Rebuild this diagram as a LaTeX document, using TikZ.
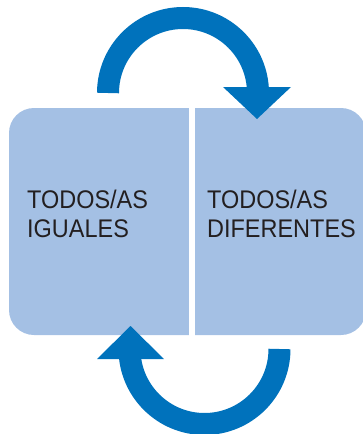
\documentclass[tikz,border=0pt]{standalone}
\usepackage{fontspec}
\setmainfont{Liberation Sans}[FakeStretch=0.92]
\definecolor{arrowblue}{HTML}{0072BC}
\definecolor{boxblue}{HTML}{A4C0E4}
\definecolor{txt}{HTML}{231F20}
\begin{document}
\begin{tikzpicture}[x=1pt,y=1pt,
  boxshape/.style={fill=boxblue},
  arrowbody/.style={draw=arrowblue,line width=22pt},
  arrowhead/.style={fill=arrowblue},
  label/.style={anchor=base west,inner sep=0pt,text=txt,font=\fontsize{25.5}{29}\selectfont}]
\useasboundingbox (0,0) rectangle (363,-434);
% boxes
\fill[boxshape,rounded corners=25pt] (9,-108) rectangle (366,-335);
\fill[white] (189,-100) rectangle (195,-340);
% top arrow
\draw[arrowbody] (108,-93) arc[start angle=180,end angle=0,radius=75];
\fill[arrowhead] (223,-87) -- (291,-87) -- (257,-119) -- cycle;
% bottom arrow
\draw[arrowbody] (279.5,-349) arc[start angle=0,end angle=-180,radius=75];
\fill[arrowhead] (97,-359) -- (164,-359) -- (130.5,-326) -- cycle;
% texts
\node[label] (l1) at (27,-208) {TODOS/AS};
\node[label] (l2) at (27,-237) {IGUALES};
\node[label] (r1) at (207,-208) {TODOS/AS};
\node[label] (r2) at (207,-237) {DIFERENTES};
\end{tikzpicture}
\end{document}
